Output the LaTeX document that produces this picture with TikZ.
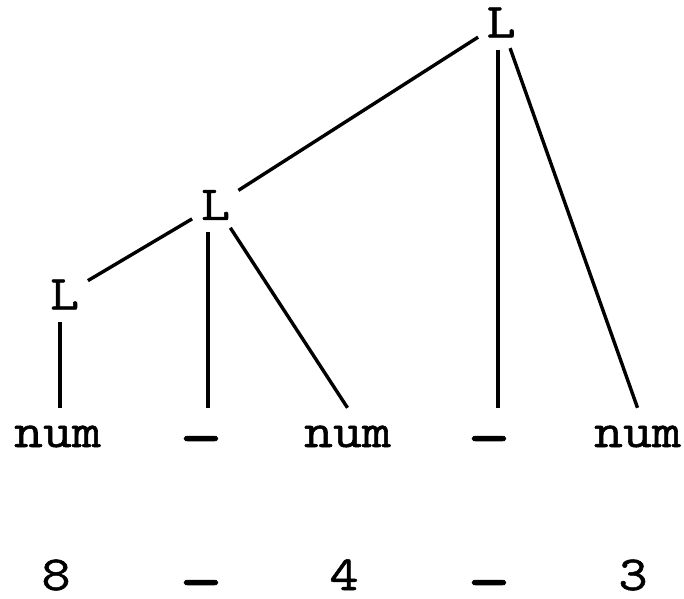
\documentclass[tikz,border=0pt]{standalone}
\usepackage{fontspec}
\usepackage{graphicx}
\newfontfamily\tfont{Latin Modern Mono}[FakeBold=1]
\newcommand{\tx}[1]{\scalebox{1.15}[1]{#1}}
\newcommand{\dsh}[1]{\raisebox{#1}{\scalebox{1.7}[1.5]{-}}}
\begin{document}
\begin{tikzpicture}[x=1pt,y=-1pt,
  every node/.style={font=\tfont\fontsize{49}{58}\selectfont},
  inner/.style={shape=circle,inner sep=0pt,minimum size=54pt},
  leaf/.style={shape=rectangle,inner sep=0pt,text height=39pt,text depth=0pt,anchor=base},
  word/.style={inner sep=0pt,anchor=base},
  edge/.style={line width=3.4pt}]
\useasboundingbox (0,0) rectangle (684,598);
% inner nodes
\node[inner] (L1) at (501,22.5) {\tx{L}};
\node[inner] (L2) at (215.5,205) {\tx{L}};
\node[inner] (L3) at (64.5,294.5) {\tx{L}};
% leaves
\node[leaf] (n1) at (57.5,447) {\tx{num}};
\node[leaf] (d1) at (201,447) {\dsh{-14pt}};
\node[leaf] (n2) at (347.5,447) {\tx{num}};
\node[leaf] (d2) at (489,447) {\dsh{-14pt}};
\node[leaf] (n3) at (637.5,447) {\tx{num}};
% input
\node[word] (w1) at (56,590) {\tx{8}};
\node[word] (w2) at (201,590) {\dsh{-15pt}};
\node[word] (w3) at (344,590) {\tx{4}};
\node[word] (w4) at (489,590) {\dsh{-15pt}};
\node[word] (w5) at (633,590) {\tx{3}};
% edges
\draw[edge] (L1) -- (L2);
\draw[edge] ([xshift=9pt]d2.north) -- ([xshift=9pt]d2.north |- L1.south);
\draw[edge] (L1) -- (n3.north);
\draw[edge] (L2) -- (L3);
\draw[edge] ([xshift=7pt]d1.north) -- ([xshift=7pt]d1.north |- L2.south);
\draw[edge] (L2) -- (n2.north);
\draw[edge] ([xshift=2.5pt]n1.north) -- ([xshift=2.5pt]n1.north |- L3.south);
\end{tikzpicture}
\end{document}
